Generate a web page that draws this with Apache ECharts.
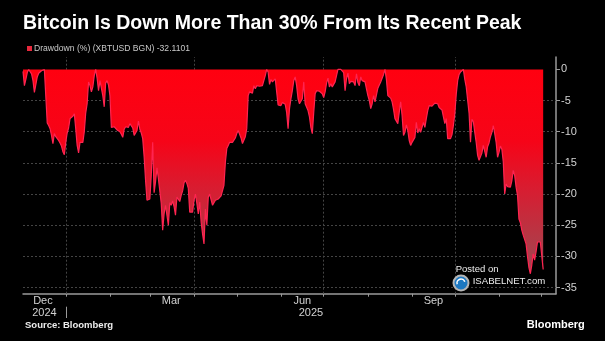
<!DOCTYPE html>
<html>
<head>
<meta charset="utf-8">
<script src="https://cdn.jsdelivr.net/npm/echarts@6/dist/echarts.min.js"></script>
<style>
  html, body { margin: 0; padding: 0; background: #000; }
  #chart { width: 605px; height: 341px; }
</style>
</head>
<body>
<div id="chart"></div>
<script>
// Bitcoin: daily drawdown (%) from its running peak, Dec 2024 - Dec 2025
const seriesName = 'Drawdown (%) (XBTUSD BGN)';
const startDate = '2024-12-02';
const axisEnd = '2025-12-11';

const drawdown = [
  -0.3, -2.6, -1.6, -0.5, 0, 0, -0.7, -1.8, -3.7, -3.5,
  -1.2, -0.6, -0.4, -0.2, 0, 0, 0, -8.6, -9.0, -9.5,
  -10.6, -11.9, -10.3, -10.8, -11.0, -11.4, -11.8, -12.3, -13.2, -13.7,
  -11.7, -10.2, -9.4, -7.9, -7.8, -7.5, -7.1, -9.5, -12.2, -13.4,
  -11.7, -11.4, -11.7, -10.0, -7.0, -5.5, -2.0, -2.6, -3.6, -2.8,
  -1.0, 0, -1.4, -3.4, -1.8, -2.0, -4.2, -6.0, -2.2, -1.8,
  -2.5, -4.2, -9.3, -9.0, -9.2, -9.5, -9.7, -9.8, -10.0, -10.4,
  -10.9, -9.6, -9.2, -9.0, -9.3, -8.7, -9.0, -9.4, -10.6, -10.8,
  -9.8, -8.3, -9.6, -10.2, -11.1, -14.0, -17.8, -21.0, -21.3, -20.8,
  -17.0, -11.7, -19.8, -18.0, -15.8, -17.5, -19.5, -21.5, -25.8, -23.2,
  -21.8, -21.5, -25.0, -21.4, -21.8, -21.1, -22.0, -23.4, -20.5, -20.8,
  -21.2, -20.2, -19.5, -18.2, -17.8, -18.3, -19.1, -22.9, -23.2, -22.9,
  -21.0, -20.0, -21.5, -23.2, -21.3, -24.5, -26.4, -28.0, -22.4, -25.0,
  -20.5, -20.0, -20.3, -21.8, -21.4, -21.0, -20.9, -20.8, -20.5, -20.3,
  -20.0, -18.6, -14.9, -12.7, -12.2, -11.7, -11.8, -11.7, -11.6, -11.0,
  -10.3, -9.8, -10.1, -11.0, -11.9, -11.7, -10.8, -9.5, -4.2, -3.6,
  -3.4, -3.8, -2.6, -3.1, -2.6, -2.8, -2.7, -2.8, -2.6, -1.8,
  -1.0, 0, -0.4, -2.4, -1.6, -2.0, -1.7, -1.5, -3.6, -5.7,
  -5.5, -5.8, -5.3, -5.2, -5.6, -6.9, -9.5, -6.3, -4.7, -3.4,
  -1.8, -1.2, -2.6, -4.7, -5.5, -5.8, -4.7, -2.0, -5.5, -5.8,
  -6.6, -7.6, -9.3, -10.3, -6.9, -3.9, -3.4, -3.6, -3.5, -3.4,
  -3.9, -4.5, -3.6, -2.2, -1.4, -2.8, -2.3, -2.8, -2.6, -2.0,
  -1.0, 0, -0.3, 0, -0.2, -0.5, -3.4, -1.5, -0.6, -2.3,
  -1.9, -2.2, -2.0, -2.6, -0.7, -2.1, -2.6, -1.2, -1.8, -1.5,
  -2.0, -3.1, -4.2, -5.0, -6.3, -5.5, -4.2, -5.2, -5.0, -3.0,
  -2.5, -2.0, -1.4, -0.8, 0, -1.6, -4.2, -4.4, -4.6, -5.2,
  -6.4, -7.9, -7.6, -8.7, -6.9, -5.2, -7.4, -10.6, -10.1, -8.9,
  -9.8, -11.4, -12.2, -11.7, -11.9, -10.9, -8.5, -10.2, -9.5, -10.1,
  -9.8, -8.5, -9.3, -7.9, -6.6, -5.8, -6.0, -5.9, -5.8, -5.4,
  -5.4, -5.5, -6.1, -6.0, -6.5, -7.6, -8.7, -7.9, -11.1, -11.3,
  -11.1, -10.5, -9.0, -7.1, -4.0, -1.8, -0.8, -0.4, -0.2, 0,
  -1.6, -2.8, -2.5, -7.0, -11.7, -8.0, -8.4, -10.1, -11.7, -13.8,
  -14.6, -14.4, -13.4, -12.2, -12.2, -14.1, -12.4, -11.8, -10.8, -10.1,
  -9.0, -10.3, -11.7, -14.1, -13.3, -12.3, -12.8, -14.8, -20.0, -18.4,
  -18.8, -18.7, -18.9, -17.9, -16.2, -17.0, -18.9, -20.2, -24.0, -24.6,
  -25.8, -26.6, -26.6, -28.0, -30.0, -31.8, -32.8, -31.4, -29.6, -30.6,
  -29.3, -27.7, -27.4, -27.7, -27.5, -32.1101
];

// Axis marks
const yTicks = [0, -5, -10, -15, -20, -25, -30, -35];
const monthTicks = ['2025-01-01', '2025-02-01', '2025-03-01', '2025-04-01', '2025-05-01', '2025-06-01',
  '2025-07-01', '2025-08-01', '2025-09-01', '2025-10-01', '2025-11-01', '2025-12-01'];
const quarterStarts = ['2025-01-01', '2025-04-01', '2025-07-01', '2025-10-01'];
const monthLabelDates = ['2024-12-16', '2025-03-16', '2025-06-16', '2025-09-16'];
const monthLabelTexts = ['Dec', 'Mar', 'Jun', 'Sep'];
const yearLabelDates = ['2024-12-17', '2025-06-22'];
const yearLabelTexts = ['2024', '2025'];
const yearBreak = '2025-01-01';

const FONT = '"Liberation Sans", Arial, sans-serif';
// dates are handled as UTC day timestamps on a linear axis
const toTime = s => Date.parse(s + 'T00:00:00Z');
const DAY = 86400000;

const seriesData = drawdown.map((v, i) => [toTime(startDate) + i * DAY, v]);
const lastValue = drawdown[drawdown.length - 1];
const labelTimes = monthLabelDates.map(toTime);

const chart = echarts.init(document.getElementById('chart'), null, { renderer: 'canvas' });

const option = {
  backgroundColor: '#000',
  animation: false,
  textStyle: { fontFamily: FONT },
  grid: { left: 23, right: 49, top: 57, bottom: 47.3, containLabel: false },
  xAxis: {
    type: 'value',
    min: toTime(startDate),
    max: toTime(axisEnd),
    axisLine: { show: true, onZero: false, lineStyle: { color: '#9a9a9a', width: 1.5 } },
    axisTick: { show: true, length: 3, customValues: monthTicks.map(toTime), lineStyle: { color: '#9a9a9a', width: 1 } },
    axisLabel: {
      customValues: labelTimes,
      formatter: v => { const k = labelTimes.indexOf(v); return k >= 0 ? monthLabelTexts[k] : ''; },
      color: '#d2d2d2', fontSize: 11, fontFamily: FONT, margin: 1, lineHeight: 12, hideOverlap: false
    },
    splitLine: { show: false }
  },
  yAxis: {
    type: 'value',
    position: 'right',
    min: -36,
    max: 2,
    axisLine: { show: true, lineStyle: { color: '#9a9a9a', width: 1.5 } },
    axisTick: { show: true, length: 4, customValues: yTicks, lineStyle: { color: '#9a9a9a', width: 1 } },
    axisLabel: { customValues: yTicks, color: '#d2d2d2', fontSize: 11, fontFamily: FONT, margin: 5, formatter: v => String(v) },
    splitLine: { show: false }
  },
  series: [{
    name: seriesName,
    type: 'line',
    data: seriesData,
    showSymbol: false,
    symbol: 'none',
    z: 2,
    itemStyle: { color: '#e8283c' },
    lineStyle: { color: '#ff2450', width: 1.2 },
    areaStyle: {
      opacity: 1,
      color: new echarts.graphic.LinearGradient(0, 0, 0, 1, [
        { offset: 0, color: '#ff0010' },
        { offset: 0.35, color: '#f60418' },
        { offset: 0.6, color: '#d61e32' },
        { offset: 0.85, color: '#b23a47' },
        { offset: 1, color: '#a04652' }
      ])
    },
    emphasis: { disabled: true },
    markLine: {
      silent: true,
      symbol: 'none',
      z: 1,
      animation: false,
      label: { show: false },
      emphasis: { disabled: true },
      lineStyle: { type: [2, 2], color: '#444444', width: 1 },
      data: [
        ...yTicks.filter(v => v < 0).map(v => ({ yAxis: v })),
        ...quarterStarts.map(d => ({ xAxis: toTime(d) }))
      ]
    }
  }]
};

chart.setOption(option);

// Text and decorations around the plot
const xOf = d => chart.convertToPixel({ xAxisIndex: 0 }, toTime(d));
const breakX = Math.round(xOf(yearBreak)) + 0.5;
const graphics = [
  { type: 'text', x: 23, y: 23.2, style: { text: 'Bitcoin Is Down More Than 30% From Its Recent Peak', fill: '#ffffff', font: 'bold 19.5px ' + FONT, verticalAlign: 'middle' } },
  { type: 'rect', shape: { x: 27, y: 46, width: 5, height: 5 }, style: { fill: '#e8283c' } },
  { type: 'text', x: 34, y: 49, style: { text: seriesName + ' ' + lastValue.toFixed(4), fill: '#c8c8c8', font: '8.6px ' + FONT, verticalAlign: 'middle' } },
  { type: 'text', x: 25, y: 325.7, style: { text: 'Source: Bloomberg', fill: '#ececec', font: 'bold 9.5px ' + FONT, verticalAlign: 'middle' } },
  { type: 'text', x: 526.7, y: 324.9, style: { text: 'Bloomberg', fill: '#ffffff', font: 'bold 11px ' + FONT, verticalAlign: 'middle' } },
  { type: 'text', x: 455.7, y: 269.4, z: 10, style: { text: 'Posted on', fill: '#eeeeee', font: '9.5px ' + FONT, verticalAlign: 'middle' } },
  { type: 'text', x: 472.7, y: 281.4, z: 10, style: { text: 'ISABELNET.com', fill: '#eeeeee', font: '9.6px ' + FONT, verticalAlign: 'middle' } },
  { type: 'circle', z: 10, shape: { cx: 461, cy: 283, r: 7.5 }, style: { fill: '#1d78c1', stroke: '#b5b5b5', lineWidth: 2 } },
  { type: 'arc', z: 11, shape: { cx: 461, cy: 283, r: 4, startAngle: Math.PI * 0.9, endAngle: Math.PI * 1.9 }, style: { stroke: '#ffffff', lineWidth: 1.5, fill: null } },
  { type: 'line', shape: { x1: breakX, y1: 306.7, x2: breakX, y2: 318 }, style: { stroke: '#9a9a9a', lineWidth: 1 } }
];
yearLabelDates.forEach((d, i) => {
  graphics.push({ type: 'text', x: xOf(d), y: 312.9, style: { text: yearLabelTexts[i], fill: '#d2d2d2', font: '11px ' + FONT, align: 'center', verticalAlign: 'middle' } });
});
chart.setOption({ graphic: graphics });
</script>
</body>
</html>
